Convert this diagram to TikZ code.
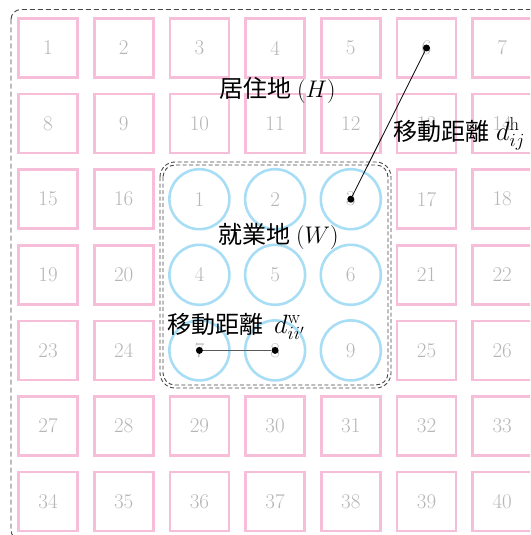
\RequirePackage{fix-cm}
\documentclass[tikz,border=0pt]{standalone}
\usepackage{fontspec}
\newfontfamily\cjk{Noto Sans CJK JP}
\definecolor{sqpink}{RGB}{246,190,216}
\definecolor{cirblue}{RGB}{168,222,245}
\definecolor{numgray}{RGB}{182,182,182}
\definecolor{framegray}{RGB}{70,70,70}
\newcommand{\jp}[1]{{\cjk\fontsize{24}{24}\selectfont #1}}
\begin{document}
\begin{tikzpicture}[x=1pt,y=-1pt,
  cell/.style={draw=sqpink, line width=2.6pt, minimum size=59pt, inner sep=0pt, text=numgray, font=\fontsize{21}{21}\selectfont},
  work/.style={circle, draw=cirblue, line width=2.6pt, minimum size=60pt, inner sep=0pt, text=numgray, font=\fontsize{21}{21}\selectfont},
  lbl/.style={font=\fontsize{24}{26}\selectfont, inner sep=0pt, text=black},
  dlbl/.style={font=\fontsize{26.5}{28}\selectfont, inner sep=0pt, text=black},
  dot/.style={circle, fill=black, minimum size=7pt, inner sep=0pt},
  frame/.style={draw=framegray, line width=0.9pt, dash pattern=on 5pt off 3pt}]
\useasboundingbox (0,0) rectangle (530,535);
\clip (0,0) rectangle (530,535);
% residence squares
\foreach \r in {1,2} \foreach \c in {1,...,7} {
  \pgfmathtruncatemacro\n{(\r-1)*7+\c}
  \node[cell] (s\n) at ({48+(\c-1)*75.7},{48+(\r-1)*75.6}) {\n};
}
\foreach \r in {3,4,5} \foreach \c/\k in {1/0,2/1,6/2,7/3} {
  \pgfmathtruncatemacro\n{15+(\r-3)*4+\k}
  \node[cell] (s\n) at ({48+(\c-1)*75.7},{48+(\r-1)*75.6}) {\n};
}
\foreach \r in {6,7} \foreach \c in {1,...,7} {
  \pgfmathtruncatemacro\n{26+(\r-6)*7+\c}
  \node[cell] (s\n) at ({48+(\c-1)*75.7},{48+(\r-1)*75.6}) {\n};
}
% work circles
\foreach \r in {3,4,5} \foreach \c in {3,4,5} {
  \pgfmathtruncatemacro\n{(\r-3)*3+\c-2}
  \node[work] (w\n) at ({48+(\c-1)*75.7},{48+(\r-1)*75.6}) {\n};
}
% frames
\draw[frame, rounded corners=10pt] (11,9.5) rectangle (548,540);
\draw[frame, rounded corners=15pt, dash pattern=on 4pt off 2.5pt] (160,162) rectangle (391,388);
\draw[frame, rounded corners=12pt, dash pattern=on 4pt off 2.5pt] (163,165) rectangle (388,385);
% dots and distances
\node[dot] (p6) at (s6.center) {};
\node[dot] (q3) at (w3.center) {};
\node[dot] (q7) at (w7.center) {};
\node[dot] (q8) at (w8.center) {};
\draw[line width=0.8pt] (p6) -- (q3);
\draw[line width=1.4pt, draw=black!65] (q7) -- (q8);
% labels
\node[lbl, anchor=base west] (H) at (219,97) {\jp{居住地}\hspace{6pt}($H$)};
\node[lbl, anchor=base west] (W) at (218,243) {\jp{就業地}\hspace{6pt}($W$)};
\node[dlbl, anchor=base west] (dh) at (393,140) {\jp{移動距離}\hspace{7pt}$d^{\mathrm{h}}_{ij}$};
\node[dlbl, anchor=base west] (dw) at (167,333) {\jp{移動距離}\hspace{11pt}$d^{\mathrm{w}}_{ii'}$};
\end{tikzpicture}
\end{document}
